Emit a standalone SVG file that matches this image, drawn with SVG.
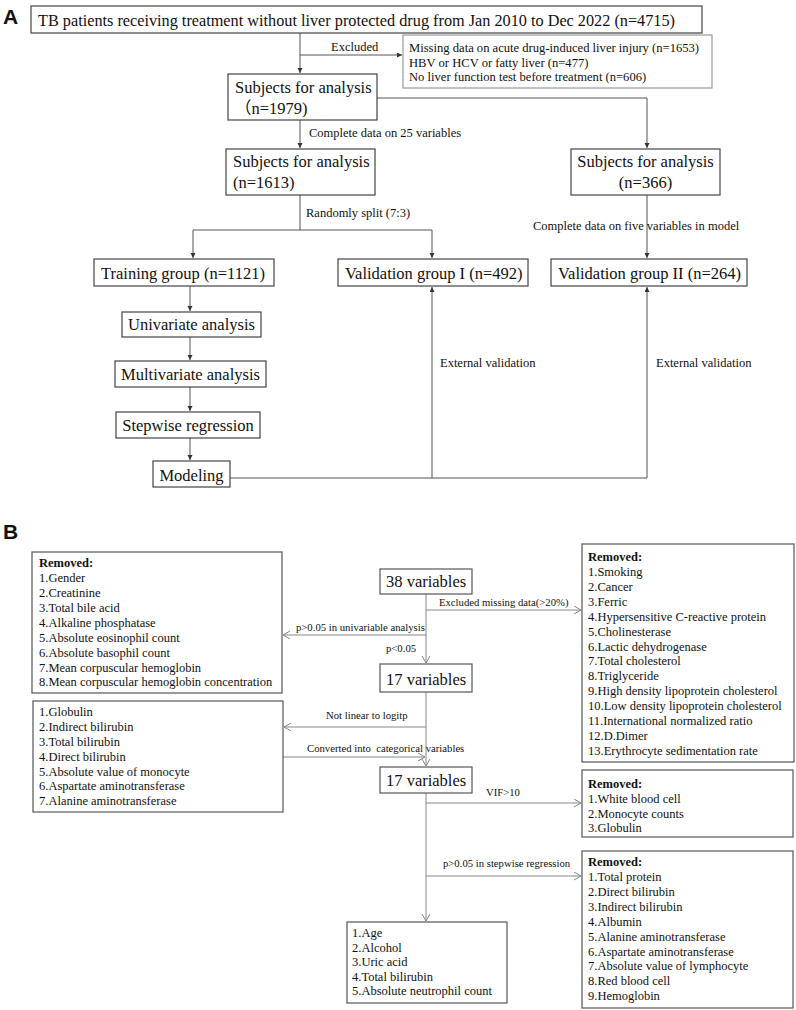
<svg xmlns="http://www.w3.org/2000/svg" width="796" height="1010" viewBox="0 0 796 1010">
<style>
text{font-family:"Liberation Serif","Noto Sans CJK SC",serif;fill:#111}
.pl{font-family:"Liberation Sans",sans-serif;font-weight:bold;font-size:21px}
.bx{fill:#fff;stroke:#444;stroke-width:1.2}
.bxl{fill:#fff;stroke:#999;stroke-width:1.2}
.bxb{fill:#fff;stroke:#555;stroke-width:1.2}
.t1{font-size:16.5px}
.t2{font-size:12.6px}
.lb{font-size:12.5px}
.lbb{font-size:10.7px}
.li{font-size:12.5px}
.rm{font-size:12.5px;font-weight:bold}
.ca{fill:none;stroke:#555;stroke-width:1}
.cb{fill:none;stroke:#888;stroke-width:1}
.mid{text-anchor:middle}
</style>
<defs>
<marker id="fa" markerUnits="userSpaceOnUse" markerWidth="6" markerHeight="6" refX="5" refY="2.5" orient="auto">
<path d="M0,0 L5,2.5 L0,5 z" fill="#333"/>
</marker>
<marker id="oa" markerUnits="userSpaceOnUse" markerWidth="9" markerHeight="10" refX="7" refY="4" orient="auto">
<path d="M0,0 L7,4 L0,8" fill="none" stroke="#888" stroke-width="1"/>
</marker>
</defs>
<text class="pl" x="3" y="24">A</text>
<text class="pl" x="3" y="539">B</text>
<g id="connectors">
<path class="ca" d="M300,33 V73" marker-end="url(#fa)"/>
<path class="ca" d="M300,55 H402" marker-end="url(#fa)"/>
<path class="ca" d="M377,98 H647 V148" marker-end="url(#fa)"/>
<path class="ca" d="M300,120 V148" marker-end="url(#fa)"/>
<path class="ca" d="M300,195 V230"/>
<path class="ca" d="M193,230 H432"/>
<path class="ca" d="M193,230 V258" marker-end="url(#fa)"/>
<path class="ca" d="M432,230 V258" marker-end="url(#fa)"/>
<path class="ca" d="M647,195 V258" marker-end="url(#fa)"/>
<path class="ca" d="M190,286 V311" marker-end="url(#fa)"/>
<path class="ca" d="M190,337 V360" marker-end="url(#fa)"/>
<path class="ca" d="M190,387 V411" marker-end="url(#fa)"/>
<path class="ca" d="M190,438 V460" marker-end="url(#fa)"/>
<path class="ca" d="M230,478 H647"/>
<path class="ca" d="M432,478 V287" marker-end="url(#fa)"/>
<path class="ca" d="M647,478 V287" marker-end="url(#fa)"/>
<path class="cb" d="M426,594 V663" marker-end="url(#oa)"/>
<path class="cb" d="M426,610 H581" marker-end="url(#oa)"/>
<path class="cb" d="M426,635 H283" marker-end="url(#oa)"/>
<path class="cb" d="M426,692 V766" marker-end="url(#oa)"/>
<path class="cb" d="M426,727 H284" marker-end="url(#oa)"/>
<path class="cb" d="M283,757 H425" marker-end="url(#oa)"/>
<path class="cb" d="M426,793 V921" marker-end="url(#oa)"/>
<path class="cb" d="M426,803 H581" marker-end="url(#oa)"/>
<path class="cb" d="M426,876 H581" marker-end="url(#oa)"/>
</g>
<g id="labels">
<text class="lb" x="331" y="51">Excluded</text>
<text class="lb" x="309" y="137">Complete data on 25 variables</text>
<text class="lb" x="306" y="217">Randomly split (7:3)</text>
<text class="lb" x="533" y="230">Complete data on five variables in model</text>
<text class="lb" x="440" y="367">External validation</text>
<text class="lb" x="656" y="367">External validation</text>
<text class="lbb" x="439" y="606">Excluded missing data(&gt;20%)</text>
<text class="lbb" x="296" y="631">p&gt;0.05 in univariable analysis</text>
<text class="lbb" x="386" y="652">p&lt;0.05</text>
<text class="lbb" x="326" y="719">Not linear to logitp</text>
<text class="lbb" x="307" y="752" xml:space="preserve">Converted into  categorical variables</text>
<text class="lbb" x="486" y="796">VIF&gt;10</text>
<text class="lbb" x="443" y="867">p&gt;0.05 in stepwise regression</text>
</g>
<g id="n-top">
<rect class="bx" x="31" y="6" width="671" height="27"/>
<text class="t1" x="38" y="26" textLength="637" lengthAdjust="spacingAndGlyphs">TB patients receiving treatment without liver protected drug from Jan 2010 to Dec 2022 (n=4715)</text>
</g>
<g id="n-excluded">
<rect class="bxl" x="403" y="35" width="309" height="53"/>
<text class="t2" x="409" y="52">Missing data on acute drug-induced liver injury (n=1653)</text>
<text class="t2" x="409" y="66.5">HBV or HCV or fatty liver (n=477)</text>
<text class="t2" x="409" y="81">No liver function test before treatment (n=606)</text>
</g>
<g id="n-1979">
<rect class="bx" x="228" y="74" width="149" height="46"/>
<text class="t1" x="235" y="93">Subjects for analysis</text>
<text class="t1" x="235" y="114">（n=1979)</text>
</g>
<g id="n-1613">
<rect class="bx" x="226" y="149" width="149" height="46"/>
<text class="t1" x="233" y="167">Subjects for analysis</text>
<text class="t1" x="233" y="188">(n=1613)</text>
</g>
<g id="n-366">
<rect class="bx" x="571" y="149" width="149" height="46"/>
<text class="t1 mid" x="645.5" y="167">Subjects for analysis</text>
<text class="t1 mid" x="645.5" y="188">(n=366)</text>
</g>
<g id="n-training">
<rect class="bx" x="94" y="259" width="180" height="27"/>
<text class="t1" x="101" y="279">Training group (n=1121)</text>
</g>
<g id="n-val1">
<rect class="bx" x="338" y="259" width="190" height="27"/>
<text class="t1" x="345" y="279">Validation group I (n=492)</text>
</g>
<g id="n-val2">
<rect class="bx" x="551" y="259" width="196" height="27"/>
<text class="t1" x="558" y="279">Validation group II (n=264)</text>
</g>
<g id="n-uni">
<rect class="bx" x="122" y="312" width="139" height="25"/>
<text class="t1 mid" x="191.5" y="330">Univariate analysis</text>
</g>
<g id="n-multi">
<rect class="bx" x="115" y="361" width="151" height="26"/>
<text class="t1 mid" x="190.5" y="380">Multivariate analysis</text>
</g>
<g id="n-step">
<rect class="bx" x="116" y="412" width="144" height="26"/>
<text class="t1 mid" x="188" y="431">Stepwise regression</text>
</g>
<g id="n-model">
<rect class="bx" x="153" y="461" width="77" height="26"/>
<text class="t1 mid" x="191.5" y="481">Modeling</text>
</g>
<g id="n-38">
<rect class="bxb" x="380" y="569" width="92" height="25"/>
<text class="t1" x="386" y="587">38 variables</text>
</g>
<g id="n-17a">
<rect class="bxb" x="380" y="664" width="92" height="28"/>
<text class="t1" x="386" y="685">17 variables</text>
</g>
<g id="n-17b">
<rect class="bxb" x="380" y="767" width="92" height="26"/>
<text class="t1" x="386" y="786">17 variables</text>
</g>
<g id="n-removed-uni">
<rect class="bxb" x="32" y="552" width="250" height="141"/>
<text class="rm" x="39" y="567">Removed:</text>
<text class="li" x="39" y="582">1.Gender</text>
<text class="li" x="39" y="597">2.Creatinine</text>
<text class="li" x="39" y="612">3.Total bile acid</text>
<text class="li" x="39" y="627">4.Alkaline phosphatase</text>
<text class="li" x="39" y="641.5">5.Absolute eosinophil count</text>
<text class="li" x="39" y="656.5">6.Absolute basophil count</text>
<text class="li" x="39" y="671.5">7.Mean corpuscular hemoglobin</text>
<text class="li" x="39" y="686">8.Mean corpuscular hemoglobin concentration</text>
</g>
<g id="n-removed-missing">
<rect class="bxb" x="582" y="544" width="212" height="218"/>
<text class="rm" x="588" y="561">Removed:</text>
<text class="li" x="588" y="576">1.Smoking</text>
<text class="li" x="588" y="591">2.Cancer</text>
<text class="li" x="588" y="605.5">3.Ferric</text>
<text class="li" x="588" y="620.5">4.Hypersensitive C-reactive protein</text>
<text class="li" x="588" y="635.5">5.Cholinesterase</text>
<text class="li" x="588" y="650.5">6.Lactic dehydrogenase</text>
<text class="li" x="588" y="665">7.Total cholesterol</text>
<text class="li" x="588" y="680">8.Triglyceride</text>
<text class="li" x="588" y="695">9.High density lipoprotein cholesterol</text>
<text class="li" x="588" y="710">10.Low density lipoprotein cholesterol</text>
<text class="li" x="588" y="724.5">11.International normalized ratio</text>
<text class="li" x="588" y="739.5">12.D.Dimer</text>
<text class="li" x="588" y="754.5">13.Erythrocyte sedimentation rate</text>
</g>
<g id="n-nonlinear">
<rect class="bxb" x="33" y="701" width="250" height="111"/>
<text class="li" x="39" y="716">1.Globulin</text>
<text class="li" x="39" y="731">2.Indirect bilirubin</text>
<text class="li" x="39" y="746">3.Total bilirubin</text>
<text class="li" x="39" y="760.5">4.Direct bilirubin</text>
<text class="li" x="39" y="775.5">5.Absolute value of monocyte</text>
<text class="li" x="39" y="790">6.Aspartate aminotransferase</text>
<text class="li" x="39" y="805">7.Alanine aminotransferase</text>
</g>
<g id="n-removed-vif">
<rect class="bxb" x="582" y="770" width="211" height="67"/>
<text class="rm" x="588" y="788">Removed:</text>
<text class="li" x="588" y="803">1.White blood cell</text>
<text class="li" x="588" y="818">2.Monocyte counts</text>
<text class="li" x="588" y="832">3.Globulin</text>
</g>
<g id="n-removed-step">
<rect class="bxb" x="582" y="851" width="211" height="157"/>
<text class="rm" x="588" y="866">Removed:</text>
<text class="li" x="588" y="881">1.Total protein</text>
<text class="li" x="588" y="896">2.Direct bilirubin</text>
<text class="li" x="588" y="910.5">3.Indirect bilirubin</text>
<text class="li" x="588" y="925.5">4.Albumin</text>
<text class="li" x="588" y="940.5">5.Alanine aminotransferase</text>
<text class="li" x="588" y="955.5">6.Aspartate aminotransferase</text>
<text class="li" x="588" y="970">7.Absolute value of lymphocyte</text>
<text class="li" x="588" y="985">8.Red blood cell</text>
<text class="li" x="588" y="1000">9.Hemoglobin</text>
</g>
<g id="n-final">
<rect class="bxb" x="347" y="922" width="160" height="81"/>
<text class="li" x="352" y="937">1.Age</text>
<text class="li" x="352" y="951.5">2.Alcohol</text>
<text class="li" x="352" y="966">3.Uric acid</text>
<text class="li" x="352" y="980.5">4.Total bilirubin</text>
<text class="li" x="352" y="995">5.Absolute neutrophil count</text>
</g>
</svg>
